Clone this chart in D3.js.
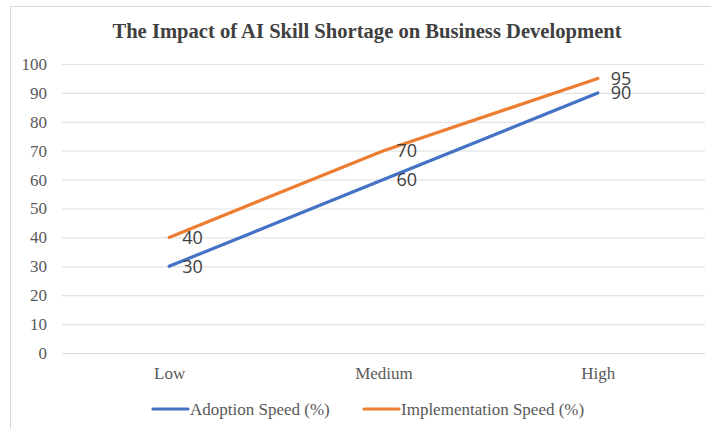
<!DOCTYPE html>
<html>
<head>
<meta charset="utf-8">
<script src="https://cdn.jsdelivr.net/npm/d3@7"></script>
<style>
  body { margin: 0; background: #fff; }
  svg { display: block; }
</style>
</head>
<body>
<svg id="chart" width="711" height="429"></svg>
<script>
// chart data
const categories = ["Low", "Medium", "High"];
const adoption = [30, 60, 90];
const implementation = [40, 70, 95];
const yTicks = [0, 10, 20, 30, 40, 50, 60, 70, 80, 90, 100];
const seriesNames = ["Adoption Speed (%)", "Implementation Speed (%)"];
const colors = ["#4472C4", "#ED7D31"];

const width = 711;
const height = 429;
const plot = { left: 62, right: 705, top: 64, bottom: 353 };
const serif = "'Liberation Serif', 'Times New Roman', serif";

const svg = d3.select("svg#chart");

// outer frame
svg.append("rect")
  .attr("x", 10.5).attr("y", 6.5)
  .attr("width", 720).attr("height", 440)
  .attr("fill", "#fff")
  .attr("stroke", "#d9d9d9");

// title
svg.append("text")
  .text("The Impact of AI Skill Shortage on Business Development")
  .attr("x", 367).attr("y", 38)
  .attr("text-anchor", "middle")
  .style("font-family", serif)
  .style("font-weight", "bold")
  .style("font-size", "20.6px")
  .attr("fill", "#404040");

const x = d3.scalePoint().domain(categories).range([plot.left, plot.right]).padding(0.5);
const y = d3.scaleLinear().domain([0, 100]).range([plot.bottom, plot.top]);

// y axis with gridlines
const yAxis = d3.axisLeft(y).tickValues(yTicks).tickSize(-(plot.right - plot.left)).tickPadding(15);
const gy = svg.append("g").attr("class", "y-axis")
  .attr("transform", `translate(${plot.left},0)`)
  .call(yAxis);
gy.select(".domain").remove();
gy.selectAll(".tick line").attr("stroke", "#e3e3e3").attr("stroke-width", 1.2);
gy.select(".tick line").attr("stroke", "#d9d9d9");
gy.selectAll(".tick text")
  .style("font-family", serif)
  .style("font-size", "17px")
  .attr("fill", "#595959");

// x axis
const xAxis = d3.axisBottom(x).tickSize(0).tickPadding(14);
const gx = svg.append("g").attr("class", "x-axis")
  .attr("transform", `translate(0,${plot.bottom})`)
  .call(xAxis);
gx.select(".domain").remove();
gx.selectAll(".tick text")
  .style("font-family", serif)
  .style("font-size", "17px")
  .attr("fill", "#595959");

// lines
const series = [adoption, implementation];
const line = d3.line().x((d, i) => x(categories[i])).y((d) => y(d));
svg.append("g").attr("class", "lines")
  .selectAll("path")
  .data(series)
  .join("path")
  .attr("d", (d) => line(d))
  .attr("fill", "none")
  .attr("stroke", (_, i) => colors[i])
  .attr("stroke-width", 3.2)
  .attr("stroke-linecap", "round")
  .attr("stroke-linejoin", "round");

// data labels
const labels = svg.append("g").attr("class", "labels");
series.forEach((s, si) => {
  labels.selectAll(`text.s${si}`)
    .data(s)
    .join("text")
    .attr("class", `s${si}`)
    .text((d) => d)
    .attr("x", (d, i) => x(categories[i]) + 13)
    .attr("y", (d) => y(d) + 6.5)
    .style("font-family", "'Open Sans', 'Noto Sans', sans-serif")
    .style("font-size", "18px")
    .attr("fill", "#404040");
});

// legend
const legendX = [152, 363];
const legend = svg.append("g").attr("class", "legend")
  .selectAll("g")
  .data(seriesNames)
  .join("g")
  .attr("transform", (_, i) => `translate(${legendX[i]},409)`);
legend.append("line")
  .attr("x1", 1).attr("x2", 36)
  .attr("stroke", (_, i) => colors[i])
  .attr("stroke-width", 3.2)
  .attr("stroke-linecap", "round");
legend.append("text")
  .text((d) => d)
  .attr("x", 38).attr("y", 6)
  .style("font-family", serif)
  .style("font-size", "17px")
  .attr("fill", "#595959");
</script>
</body>
</html>
